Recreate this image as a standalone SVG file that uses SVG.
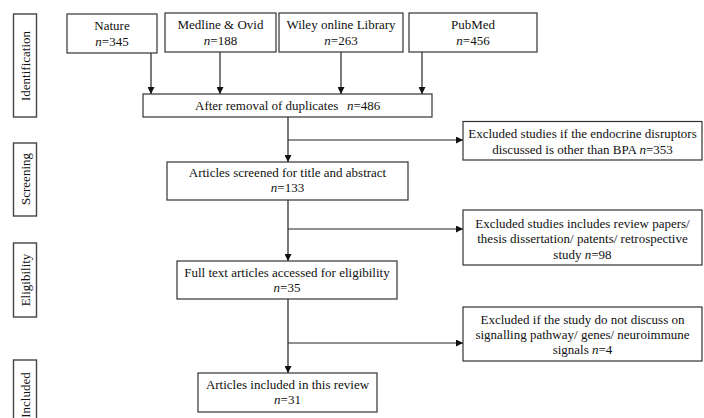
<svg xmlns="http://www.w3.org/2000/svg" width="704" height="418" viewBox="0 0 704 418">
<style>
.box{fill:#fff;stroke:#333;stroke-width:1.2}
.side{fill:#fff;stroke:#444;stroke-width:1.4}
text{font-family:"Liberation Serif","Times New Roman",serif;font-size:13px;fill:#111}
.c{text-anchor:middle}
.i{font-style:italic}
.ln{stroke:#222;stroke-width:1.2;fill:none}
</style>
<defs>
<marker id="ah" viewBox="0 0 8 8" refX="8" refY="4" markerWidth="7" markerHeight="7" markerUnits="userSpaceOnUse" orient="auto">
<path d="M0,0 L8,4 L0,8 Z" fill="#111"/>
</marker>
</defs>
<rect width="704" height="418" fill="#fff"/>
<g id="side-identification"><rect class="side" x="13.5" y="14" width="23" height="103"/><text class="c" transform="translate(29.5,66) rotate(-90)">Identification</text></g>
<g id="side-screening"><rect class="side" x="13.5" y="143" width="23" height="73"/><text class="c" transform="translate(29.5,179) rotate(-90)">Screening</text></g>
<g id="side-eligibility"><rect class="side" x="13.5" y="243" width="23" height="74"/><text class="c" transform="translate(29.5,280) rotate(-90)">Eligibility</text></g>
<g id="side-included"><rect class="side" x="13.5" y="360" width="23" height="70"/><text class="c" transform="translate(29.5,395) rotate(-90)">Included</text></g>

<g id="connectors">
<line class="ln" x1="151" y1="53" x2="151" y2="94" marker-end="url(#ah)"/>
<line class="ln" x1="220" y1="52" x2="220" y2="94" marker-end="url(#ah)"/>
<line class="ln" x1="341" y1="52" x2="341" y2="94" marker-end="url(#ah)"/>
<line class="ln" x1="422" y1="52" x2="422" y2="94" marker-end="url(#ah)"/>
<line class="ln" x1="288" y1="117" x2="288" y2="162" marker-end="url(#ah)"/>
<line class="ln" x1="288" y1="140" x2="463" y2="140" marker-end="url(#ah)"/>
<line class="ln" x1="288" y1="200" x2="288" y2="261" marker-end="url(#ah)"/>
<line class="ln" x1="288" y1="229" x2="463" y2="229" marker-end="url(#ah)"/>
<line class="ln" x1="288" y1="299" x2="288" y2="373" marker-end="url(#ah)"/>
<line class="ln" x1="288" y1="343" x2="463" y2="343" marker-end="url(#ah)"/>
</g>

<g id="nature"><rect class="box" x="67" y="14" width="90" height="39"/><text class="c" x="112" y="30">Nature</text><text class="c" x="112" y="46"><tspan class="i">n</tspan>=345</text></g>
<g id="medline"><rect class="box" x="165" y="13" width="111" height="39"/><text class="c" x="220.5" y="29">Medline &amp; Ovid</text><text class="c" x="220.5" y="45"><tspan class="i">n</tspan>=188</text></g>
<g id="wiley"><rect class="box" x="279" y="13" width="124" height="39"/><text class="c" x="341" y="29">Wiley online Library</text><text class="c" x="341" y="45"><tspan class="i">n</tspan>=263</text></g>
<g id="pubmed"><rect class="box" x="409" y="13" width="128" height="39"/><text class="c" x="473" y="29">PubMed</text><text class="c" x="473" y="45"><tspan class="i">n</tspan>=456</text></g>

<g id="duplicates"><rect class="box" x="143" y="94" width="289" height="23"/><text x="195" y="110">After removal of duplicates</text><text x="347" y="110"><tspan class="i">n</tspan>=486</text></g>

<g id="screened"><rect class="box" x="167" y="162" width="241" height="38"/><text class="c" x="287.5" y="177">Articles screened for title and abstract</text><text class="c" x="287.5" y="192"><tspan class="i">n</tspan>=133</text></g>

<g id="eligibility"><rect class="box" x="177" y="261" width="220" height="38"/><text class="c" x="287" y="277">Full text articles accessed for eligibility</text><text class="c" x="287" y="292"><tspan class="i">n</tspan>=35</text></g>

<g id="included"><rect class="box" x="198" y="373" width="179" height="39"/><text class="c" x="287.5" y="389">Articles included in this review</text><text class="c" x="287.5" y="404"><tspan class="i">n</tspan>=31</text></g>

<g id="excluded1"><rect class="box" x="463" y="121.5" width="239" height="38.5"/><text class="c" x="582.5" y="138">Excluded studies if the endocrine disruptors</text><text class="c" x="582.5" y="154">discussed is other than BPA <tspan class="i">n</tspan>=353</text></g>

<g id="excluded2"><rect class="box" x="463" y="210" width="239" height="55"/><text class="c" x="582.5" y="228">Excluded studies includes review papers/</text><text class="c" x="582.5" y="243">thesis dissertation/ patents/ retrospective</text><text class="c" x="582.5" y="259">study <tspan class="i">n</tspan>=98</text></g>

<g id="excluded3"><rect class="box" x="463" y="307" width="239" height="54"/><text class="c" x="582.5" y="324">Excluded if the study do not discuss on</text><text class="c" x="582.5" y="339">signalling pathway/ genes/ neuroimmune</text><text class="c" x="582.5" y="354">signals <tspan class="i">n</tspan>=4</text></g>
</svg>
